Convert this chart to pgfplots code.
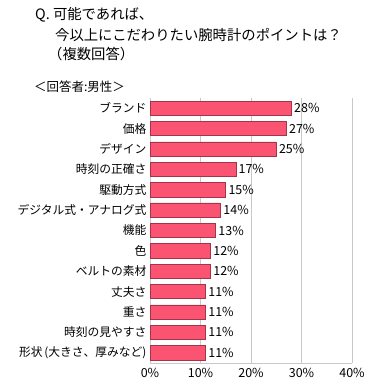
\documentclass[border=0pt]{standalone}
\usepackage{fontspec}
\setmainfont{Noto Sans CJK JP}
\usepackage{pgfplots}
\pgfplotsset{compat=1.18}
\definecolor{barfill}{RGB}{250,84,114}
\definecolor{bardraw}{RGB}{165,52,72}
\definecolor{gridc}{RGB}{200,200,200}
\begin{document}
\begin{tikzpicture}
\path[use as bounding box] (0bp,0bp) rectangle (373bp,390bp);
\node[anchor=west,font=\fontsize{14.4}{16}\selectfont,inner sep=0pt] at (35bp,375bp) {Q. 可能であれば、};
\node[anchor=west,font=\fontsize{14.4}{16}\selectfont,inner sep=0pt] at (55bp,354.5bp) {今以上にこだわりたい腕時計のポイントは？};
\node[anchor=west,font=\fontsize{14.4}{16}\selectfont,inner sep=0pt] at (48bp,336bp) {（複数回答）};
\node[anchor=west,font=\fontsize{12.5}{14}\selectfont,inner sep=0pt] at (34bp,303bp) {＜回答者:男性＞};
\begin{axis}[
  at={(150bp,27bp)}, anchor=south west,
  xbar, scale only axis, width=202bp, height=265bp,
  xmin=0, xmax=40, ymin=-0.5, ymax=12.5, y dir=reverse,
  ytick={0,...,12},
  yticklabels={ブランド,価格,デザイン,時刻の正確さ,駆動方式,デジタル式・アナログ式,機能,色,ベルトの素材,丈夫さ,重さ,時刻の見やすさ,{形状\,(大きさ、厚みなど)}},
  xtick={0,10,20,30,40},
  xticklabel={\pgfmathprintnumber{\tick}\%},
  /pgf/number format/assume math mode=true,
  xmajorgrids, grid style={gridc, line width=0.6pt},
  axis x line*=bottom, axis y line*=left,
  axis line style={draw=gridc, -, line width=0.6pt},
  major tick length=0pt,
  y tick label style={font=\fontsize{11.8}{13}\selectfont},
  x tick label style={font=\fontsize{12.5}{14}\selectfont, yshift=-2bp},
  bar width=0.7,
  clip=false,
  nodes near coords={\pgfmathprintnumber{\pgfplotspointmeta}\%},
  nodes near coords style={font=\fontsize{12.5}{14}\selectfont, inner sep=2.5pt, /pgf/number format/assume math mode=true},
]
\addplot[fill=barfill, draw=bardraw, line width=0.6pt] coordinates {
(28,0) (27,1) (25,2) (17,3) (15,4) (14,5) (13,6) (12,7) (12,8) (11,9) (11,10) (11,11) (11,12)
};
\end{axis}
\end{tikzpicture}
\end{document}
